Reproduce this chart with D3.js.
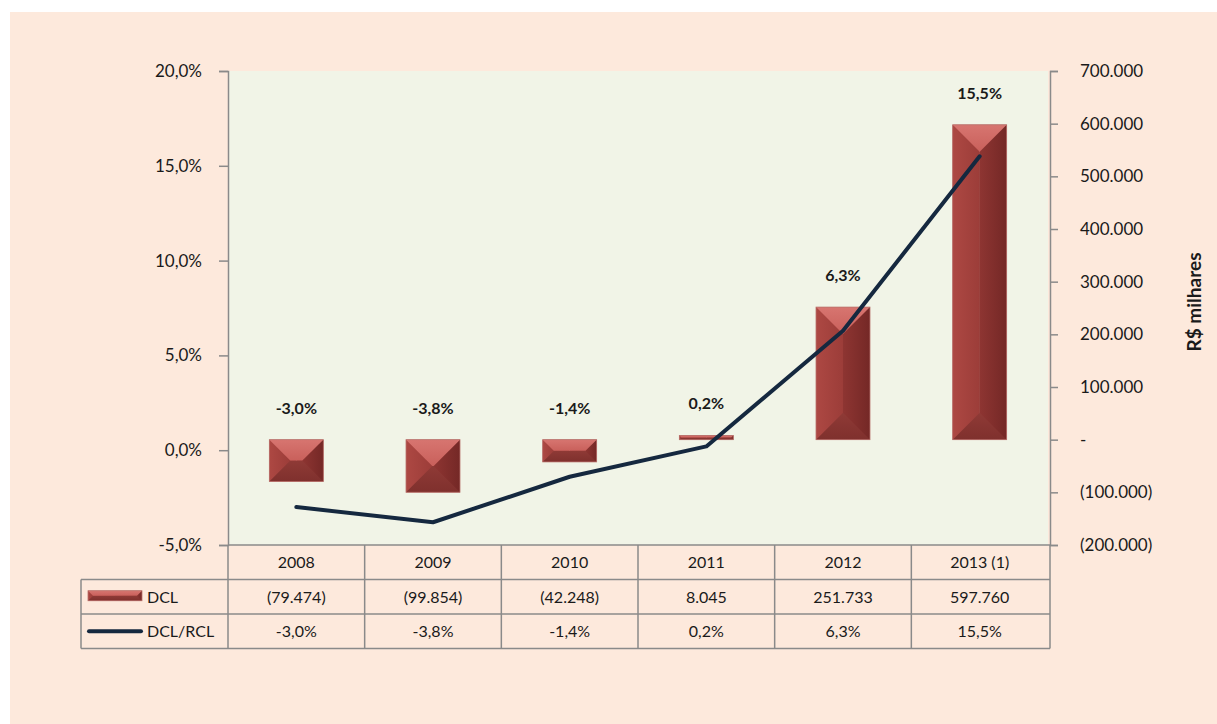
<!DOCTYPE html>
<html>
<head>
<meta charset="utf-8">
<script src="https://cdn.jsdelivr.net/npm/d3@7"></script>
<style>
  body { margin: 0; background: #fff; }
  svg text { font-family: Lato, "Open Sans", sans-serif; fill: #1a1a1a; }
</style>
</head>
<body>
<div id="chart"></div>
<script>
// data
var years = ["2008", "2009", "2010", "2011", "2012", "2013 (1)"];
var dcl = [-79474, -99854, -42248, 8045, 251733, 597760];
var ratio = [-0.030, -0.038, -0.014, 0.002, 0.063, 0.155];
var leftTicks = [-0.05, 0, 0.05, 0.10, 0.15, 0.20];
var rightTicks = [-200000, -100000, 0, 100000, 200000, 300000, 400000, 500000, 600000, 700000];

var width = 1217,
  height = 724;

var svg = d3.select("#chart").append("svg")
  .attr("width", width)
  .attr("height", height);

var defs = svg.append("defs");
function grad(id, c1, c2, vertical) {
  var g = defs.append("linearGradient").attr("id", id)
    .attr("x1", 0).attr("y1", 0)
    .attr("x2", vertical ? 0 : 1).attr("y2", vertical ? 1 : 0);
  g.append("stop").attr("offset", "0%").attr("stop-color", c1);
  g.append("stop").attr("offset", "100%").attr("stop-color", c2);
}
grad("gTop", "#d77570", "#c9605b", true);
grad("gLeft", "#ad4843", "#9c3d39", false);
grad("gRight", "#8e3532", "#742826", false);
grad("gBottom", "#8f3a36", "#7f302d", true);

// outer background
svg.append("rect")
  .attr("x", 10).attr("y", 12)
  .attr("width", width - 10).attr("height", height - 12)
  .attr("fill", "#fde9dc");

var plotLeft = 228, plotRight = 1048, plotTop = 71, plotBottom = 545;

var x = d3.scaleBand().domain(years).range([plotLeft, plotRight]).padding(0);
var yL = d3.scaleLinear().domain([-0.05, 0.20]).range([plotBottom, plotTop]);
var yR = d3.scaleLinear().domain([-200000, 700000]).range([plotBottom, plotTop]);

// plot background
svg.append("rect")
  .attr("x", plotLeft).attr("y", plotTop)
  .attr("width", plotRight - plotLeft).attr("height", plotBottom - plotTop)
  .attr("fill", "#f1f4e7");

var pct = function (v) {
  return d3.format(".1f")(v * 100).replace(".", ",").replace("\u2212", "-") + "%";
};
var thousands = function (v) {
  if (v === 0) return "-";
  var s = d3.format(",")(Math.abs(v)).replace(/,/g, ".");
  return v < 0 ? "(" + s + ")" : s;
};

// left axis
var axL = svg.append("g")
  .attr("transform", "translate(" + plotLeft + ",0)")
  .call(d3.axisLeft(yL).tickValues(leftTicks).tickSize(9).tickPadding(17).tickFormat(pct));
axL.selectAll("text").style("font-size", "17px");

// right axis
var axR = svg.append("g")
  .attr("transform", "translate(" + (plotRight + 2) + ",0)")
  .call(d3.axisRight(yR).tickValues(rightTicks).tickSize(8).tickPadding(22).tickFormat(thousands));
axR.selectAll("text").style("font-size", "17px");

svg.selectAll(".domain, .tick line").attr("stroke", "#8a8a8a").attr("stroke-width", 1.5);

svg.append("text")
  .attr("transform", "translate(1201,302) rotate(-90)")
  .attr("text-anchor", "middle")
  .style("font-size", "19px")
  .style("font-weight", "bold")
  .text("R$ milhares");

// bevelled bar
function bevelBar(g, x0, y0, w, h) {
  var x1 = x0 + w, y1 = y0 + h;
  var b = Math.min(w / 2, h / 2);
  var ix0 = x0 + b, ix1 = x1 - b, iy0 = y0 + b, iy1 = y1 - b;
  var poly = function (pts, fill) {
    g.append("polygon")
      .attr("points", pts.map(function (p) { return p.join(","); }).join(" "))
      .attr("fill", fill);
  };
  poly([[x0, y0], [x0 + w / 2, y0], [x0 + w / 2, y1], [x0, y1]], "url(#gLeft)");
  poly([[x0 + w / 2, y0], [x1, y0], [x1, y1], [x0 + w / 2, y1]], "url(#gRight)");
  poly([[x0, y0], [ix0, iy0], [ix0, iy1], [x0, y1]], "url(#gLeft)");
  poly([[x1, y0], [ix1, iy0], [ix1, iy1], [x1, y1]], "url(#gRight)");
  poly([[x0, y1], [ix0, iy1], [ix1, iy1], [x1, y1]], "url(#gBottom)");
  poly([[x0, y0], [x1, y0], [ix1, iy0], [ix0, iy0]], "url(#gTop)");
  g.append("rect")
    .attr("x", x0).attr("y", y0).attr("width", w).attr("height", h)
    .attr("fill", "none").attr("stroke", "#b9716c").attr("stroke-width", 0.8);
}

var barW = x.bandwidth() * 0.395;
var bars = svg.append("g");
years.forEach(function (yr, i) {
  var v = dcl[i];
  var y0 = Math.min(yR(v), yR(0));
  var h = Math.abs(yR(v) - yR(0));
  bevelBar(bars.append("g"), x(yr) + (x.bandwidth() - barW) / 2, y0, barW, h);
});

// line
var line = d3.line()
  .x(function (d, i) { return x(years[i]) + x.bandwidth() / 2; })
  .y(function (d) { return yL(d); });
svg.append("path")
  .datum(ratio)
  .attr("d", line)
  .attr("fill", "none")
  .attr("stroke", "#15283f")
  .attr("stroke-width", 4)
  .attr("stroke-linejoin", "round")
  .attr("stroke-linecap", "round");

// labels above bars
svg.selectAll(".lbl")
  .data(ratio)
  .join("text")
  .attr("class", "lbl")
  .attr("x", function (d, i) { return x(years[i]) + x.bandwidth() / 2; })
  .attr("y", function (d, i) { return Math.min(yR(dcl[i]), yR(0)) - 26; })
  .attr("text-anchor", "middle")
  .style("font-size", "16px")
  .style("font-weight", "bold")
  .text(pct);

// data table
var rowH = 34.5;
var tableLeft = 81;
var tg = svg.append("g");
var rowY = [plotBottom, plotBottom + rowH, plotBottom + 2 * rowH, plotBottom + 3 * rowH];
var stroke = "#8a8a8a";

function hline(x1, x2, yy) {
  tg.append("line").attr("x1", x1).attr("x2", x2).attr("y1", yy).attr("y2", yy)
    .attr("stroke", stroke).attr("stroke-width", 1.5);
}
function vline(xx, y1, y2) {
  tg.append("line").attr("x1", xx).attr("x2", xx).attr("y1", y1).attr("y2", y2)
    .attr("stroke", stroke).attr("stroke-width", 1.5);
}
hline(plotLeft, plotRight + 2, rowY[0]);
hline(tableLeft, plotRight + 2, rowY[1]);
hline(tableLeft, plotRight + 2, rowY[2]);
hline(tableLeft, plotRight + 2, rowY[3]);
vline(tableLeft, rowY[1], rowY[3]);
years.forEach(function (yr) { vline(x(yr), rowY[0], rowY[3]); });
vline(plotRight + 2, rowY[0], rowY[3]);

var rows = [years, dcl.map(thousands), ratio.map(pct)];
rows.forEach(function (r, ri) {
  tg.selectAll(".c" + ri)
    .data(r)
    .join("text")
    .attr("x", function (d, i) { return x(years[i]) + x.bandwidth() / 2; })
    .attr("y", (rowY[ri] + rowY[ri + 1]) / 2 + 6)
    .attr("text-anchor", "middle")
    .style("font-size", "16px")
    .text(function (d) { return d; });
});

// legend keys in the table
var keyG = tg.append("g");
bevelBar(keyG, 88, (rowY[1] + rowY[2]) / 2 - 6, 54, 10);
tg.append("line")
  .attr("x1", 89).attr("x2", 141)
  .attr("y1", (rowY[2] + rowY[3]) / 2).attr("y2", (rowY[2] + rowY[3]) / 2)
  .attr("stroke", "#15283f").attr("stroke-width", 4).attr("stroke-linecap", "round");
tg.append("text").attr("x", 147).attr("y", (rowY[1] + rowY[2]) / 2 + 6)
  .style("font-size", "16px").text("DCL");
tg.append("text").attr("x", 147).attr("y", (rowY[2] + rowY[3]) / 2 + 6)
  .style("font-size", "16px").text("DCL/RCL");
</script>
</body>
</html>
